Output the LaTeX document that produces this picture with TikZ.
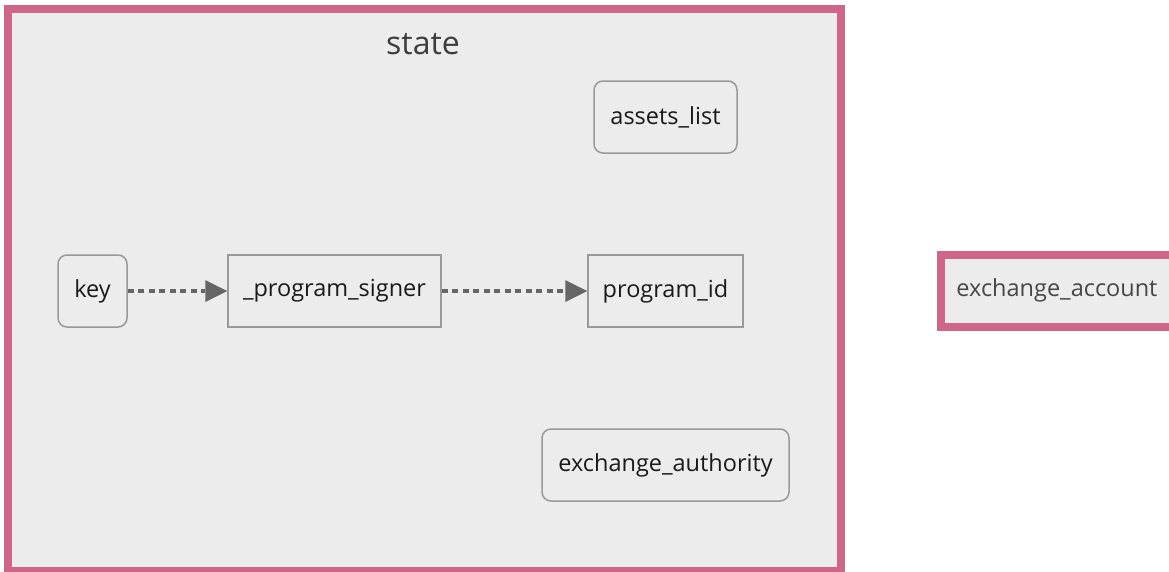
\documentclass[tikz,border=0pt]{standalone}
\usepackage{fontspec}
\setmainfont{Open Sans}
\usetikzlibrary{arrows.meta}
\definecolor{groupline}{HTML}{CF668A}
\definecolor{panel}{HTML}{ECECEC}
\definecolor{boxline}{HTML}{999999}
\definecolor{linkgray}{HTML}{666666}
\definecolor{ink}{HTML}{1A1A1A}
\tikzset{
  box/.style={draw=boxline, line width=1.5pt, fill=panel, text=ink,
    font=\fontsize{23.5}{28}\selectfont, minimum height=72pt, inner sep=0pt},
  roundbox/.style={box, rounded corners=9pt},
  link/.style={draw=linkgray, line width=3.5pt, dash pattern=on 6pt off 4.5pt,
    -{Triangle[length=22pt,width=22pt,line width=0pt]}},
  group/.style={draw=groupline, line width=8pt, fill=panel}
}
\begin{document}
\begin{tikzpicture}[x=1pt,y=-1pt]
  \useasboundingbox (0,0) rectangle (1169,571);
  % subgraph "state"
  \path[group] (7.5,9) rectangle (841,571);
  \node[text=ink!85, font=\fontsize{32}{38}\selectfont] (statelabel) at (423,44) {state};
  % standalone group
  \path[group] (941,254.5) rectangle (1176,326.5);
  \node[text=black!72, font=\fontsize{23.5}{28}\selectfont] (exacct) at (1057,290) {exchange\_account};
  % nodes inside state
  \node[roundbox, minimum width=69pt]  (key)    at (92.5,291)  {key};
  \node[box,      minimum width=213pt] (signer) at (334.5,291) {\_program\_signer};
  \node[box,      minimum width=155pt] (progid) at (665.5,291) {program\_id};
  \node[roundbox, minimum width=143pt] (assets) at (665.5,117) {assets\_list};
  \node[roundbox, minimum width=247pt] (exauth) at (665.5,465) {exchange\_authority};
  % dotted links
  \draw[link] (key.east) -- (signer.west);
  \draw[link] (signer.east) -- (progid.west);
\end{tikzpicture}
\end{document}
